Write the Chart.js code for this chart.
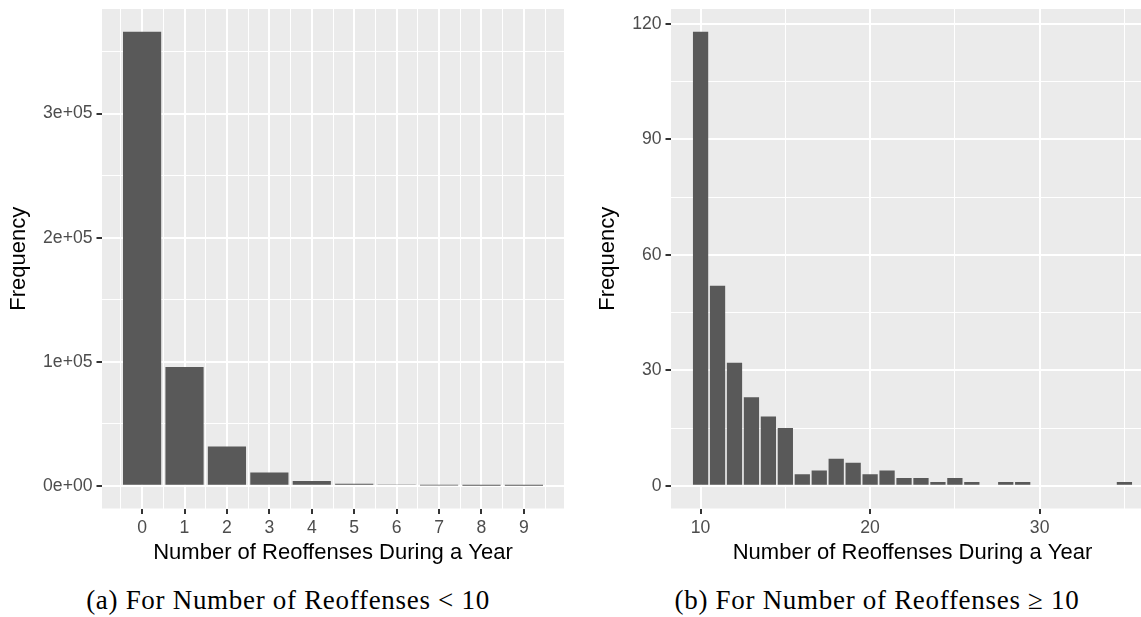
<!DOCTYPE html>
<html>
<head>
<meta charset="utf-8">
<script src="https://cdn.jsdelivr.net/npm/chart.js@4.4.1/dist/chart.umd.min.js"></script>
<style>
  html, body { margin: 0; padding: 0; background: #fff; overflow: hidden; }
  body { width: 1141px; height: 617px; position: relative; }
  canvas { position: absolute; top: 0; }
  #chartA { left: 0; }
  #chartB { left: 575px; }
  .caption {
    position: absolute; top: 585px; transform: translateX(-50%);
    font-family: 'Liberation Serif', 'Times New Roman', serif;
    font-size: 27px; letter-spacing: 0.7px; white-space: nowrap; color: #000;
  }
</style>
</head>
<body>
<canvas id="chartA" width="570" height="580"></canvas>
<canvas id="chartB" width="600" height="580"></canvas>
<div class="caption" style="left:288px">(a) For Number of Reoffenses &lt; 10</div>
<div class="caption" style="left:877px">(b) For Number of Reoffenses &ge; 10</div>
<script>
// reoffense counts below 10
var lowCounts = [0, 1, 2, 3, 4, 5, 6, 7, 8, 9];
var lowFreq = [366000, 95700, 31700, 10700, 3800, 1600, 600, 250, 120, 10];
var lowXTicks = [0, 1, 2, 3, 4, 5, 6, 7, 8, 9];
var lowYTicks = [0, 100000, 200000, 300000];

// reoffense counts of 10 and more
var highCounts = [10, 11, 12, 13, 14, 15, 16, 17, 18, 19, 20, 21, 22, 23, 24, 25, 26, 27, 28, 29, 30, 31, 32, 33, 34, 35];
var highFreq = [118, 52, 32, 23, 18, 15, 3, 4, 7, 6, 3, 4, 2, 2, 1, 2, 1, 0, 1, 1, 0, 0, 0, 0, 0, 1];
var highXTicks = [10, 20, 30];
var highYTicks = [0, 30, 60, 90, 120];

var BAR = '#595959';
var PANEL = '#EBEBEB';
var TICK_TEXT = '#4D4D4D';

Chart.defaults.font.family = "'Liberation Sans', Arial, sans-serif";
Chart.defaults.animation = false;

var panelBg = {
  id: 'panelBg',
  beforeDraw: function(chart) {
    var a = chart.chartArea, c = chart.ctx;
    c.save();
    c.fillStyle = PANEL;
    c.fillRect(a.left, a.top, a.right - a.left, a.bottom - a.top);
    c.restore();
  }
};

// ggplot-like range: bars are 0.9 wide, 5% padding on each side
function range(lo, hi) {
  var pad = (hi - lo) * 0.05;
  return [lo - pad, hi + pad];
}

// major ticks plus one minor line halfway between them
function withMinor(major, lo, hi) {
  var step = major[1] - major[0];
  var out = [];
  for (var v = major[0] - step / 2; v <= hi; v += step / 2) {
    if (v >= lo) out.push(+v.toFixed(6));
  }
  return out;
}

function sci(v) {
  var p = v.toExponential(0).split('e');
  var e = p[1];
  return p[0] + 'e' + e[0] + e.slice(1).padStart(2, '0');
}

function axisOpts(major, lo, hi, label, fmt, size, titlePad) {
  var isMajor = function(ctx) { return ctx.tick && major.indexOf(ctx.tick.value) >= 0; };
  return {
    type: 'linear',
    min: lo,
    max: hi,
    offset: false,
    afterBuildTicks: function(axis) {
      axis.ticks = withMinor(major, lo, hi).map(function(v) { return { value: v }; });
    },
    afterFit: function(axis) {
      if (axis.isHorizontal()) axis.height = size; else axis.width = size;
      // labels may hang over the panel edge, don't shrink the panel for them
      axis.paddingTop = axis.paddingBottom = axis.paddingLeft = axis.paddingRight = 0;
    },
    border: { display: false },
    grid: {
      offset: false,
      color: '#FFFFFF',
      lineWidth: function(ctx) { return isMajor(ctx) ? 2 : 1; },
      drawTicks: true,
      tickLength: 5.5,
      tickColor: function(ctx) { return isMajor(ctx) ? '#333333' : 'rgba(0,0,0,0)'; },
      tickWidth: 2
    },
    ticks: {
      autoSkip: false,
      maxRotation: 0,
      padding: 4,
      color: TICK_TEXT,
      font: { size: 17.6 },
      callback: function(v) { return major.indexOf(v) >= 0 ? fmt(v) : ''; }
    },
    title: {
      display: true,
      text: label,
      color: '#000000',
      font: { size: 22 },
      padding: titlePad
    }
  };
}

function histogram(id, counts, freq, xMajor, yMajor, yFmt, yWidth, padRight, yTitlePad) {
  var xr = range(counts[0] - 0.45, counts[counts.length - 1] + 0.45);
  var yr = range(0, Math.max.apply(null, freq));
  // Chart.js sizes bars from the smallest gap between data points *or* ticks,
  // so scale the percentage back when the minor grid is finer than the data
  var minorStep = (xMajor[1] - xMajor[0]) / 2;
  var barPct = 0.9 / Math.min(1, minorStep);
  return new Chart(document.getElementById(id), {
    type: 'bar',
    data: {
      datasets: [{
        data: counts.map(function(c, i) { return { x: c, y: freq[i] }; }),
        backgroundColor: BAR,
        borderWidth: 0,
        barPercentage: barPct,
        categoryPercentage: 1.0
      }]
    },
    options: {
      responsive: false,
      layout: { padding: { left: 0, top: 9, right: padRight, bottom: 0 } },
      plugins: { legend: { display: false }, tooltip: { enabled: false } },
      scales: {
        x: axisOpts(xMajor, xr[0], xr[1], 'Number of Reoffenses During a Year', String, 71.5, { top: 0, bottom: 14 }),
        y: axisOpts(yMajor, yr[0], yr[1], 'Frequency', yFmt, yWidth, { top: yTitlePad, bottom: 0 })
      }
    },
    plugins: [panelBg]
  });
}

histogram('chartA', lowCounts, lowFreq, lowXTicks, lowYTicks, sci, 102, 6, 6);
histogram('chartB', highCounts, highFreq, highXTicks, highYTicks, String, 96, 21, 20);
</script>
</body>
</html>
